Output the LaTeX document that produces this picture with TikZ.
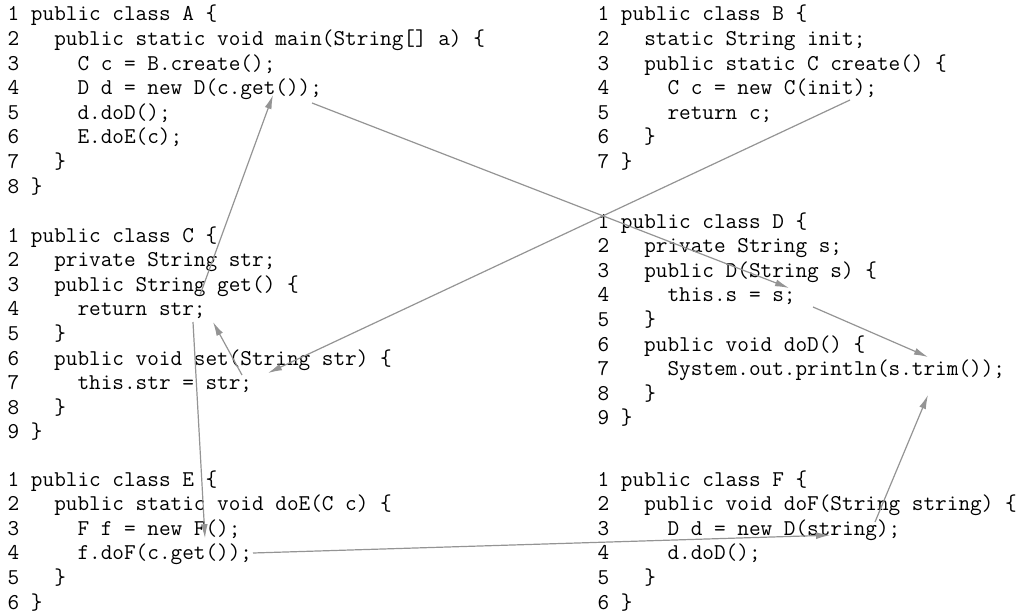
\documentclass[tikz,border=0pt]{standalone}
\usetikzlibrary{arrows.meta,calc}
\newcommand{\codefont}{\fontsize{22.6}{24.6}\selectfont\ttfamily\frenchspacing}
\begin{document}
\begin{tikzpicture}[x=1pt,y=-1pt,
  code/.style={anchor=base west,inner sep=0pt,font=\codefont},
  flow/.style={draw=black!42,line width=1.2pt,-{Latex[length=14pt,width=7pt]}}]
\useasboundingbox (0,0) rectangle (1023,615);
% class A
\node[code] (A1) at (7.5,21)    {1 public class A \{};
\node[code] (A2) at (7.5,45.6)  {2~~~public static void main(String[] a) \{};
\node[code] (A3) at (7.5,70.2)  {3~~~~~C c = B.create();};
\node[code] (A4) at (7.5,94.8)  {4~~~~~D d = new D(c.get());};
\node[code] (A5) at (7.5,119.4) {5~~~~~d.doD();};
\node[code] (A6) at (7.5,144)   {6~~~~~E.doE(c);};
\node[code] (A7) at (7.5,168.6) {7~~~\}};
\node[code] (A8) at (7.5,193.2) {8 \}};
% class B
\node[code] (B1) at (597.5,21)    {1 public class B \{};
\node[code] (B2) at (597.5,45.6)  {2~~~static String init;};
\node[code] (B3) at (597.5,70.2)  {3~~~public static C create() \{};
\node[code] (B4) at (597.5,94.8)  {4~~~~~C c = new C(init);};
\node[code] (B5) at (597.5,119.4) {5~~~~~return c;};
\node[code] (B6) at (597.5,144)   {6~~~\}};
\node[code] (B7) at (597.5,168.6) {7 \}};
% class C
\node[code] (C1) at (7.5,242)   {1 public class C \{};
\node[code] (C2) at (7.5,266.6) {2~~~private String str;};
\node[code] (C3) at (7.5,291.2) {3~~~public String get() \{};
\node[code] (C4) at (7.5,315.8) {4~~~~~return str;};
\node[code] (C5) at (7.5,340.4) {5~~~\}};
\node[code] (C6) at (7.5,365)   {6~~~public void set(String str) \{};
\node[code] (C7) at (7.5,389.6) {7~~~~~this.str = str;};
\node[code] (C8) at (7.5,414.2) {8~~~\}};
\node[code] (C9) at (7.5,438.8) {9 \}};
% class D
\node[code] (D1) at (597.5,228)   {1 public class D \{};
\node[code] (D2) at (597.5,252.6) {2~~~private String s;};
\node[code] (D3) at (597.5,277.2) {3~~~public D(String s) \{};
\node[code] (D4) at (597.5,301.8) {4~~~~~this.s = s;};
\node[code] (D5) at (597.5,326.4) {5~~~\}};
\node[code] (D6) at (597.5,351)   {6~~~public void doD() \{};
\node[code] (D7) at (597.5,375.6) {7~~~~~System.out.println(s.trim());};
\node[code] (D8) at (597.5,400.2) {8~~~\}};
\node[code] (D9) at (597.5,424.8) {9 \}};
% class E
\node[code] (E1) at (7.5,486)   {1 public class E \{};
\node[code] (E2) at (7.5,510.6) {2~~~public static void doE(C c) \{};
\node[code] (E3) at (7.5,535.2) {3~~~~~F f = new F();};
\node[code] (E4) at (7.5,559.8) {4~~~~~f.doF(c.get());};
\node[code] (E5) at (7.5,584.4) {5~~~\}};
\node[code] (E6) at (7.5,609)   {6 \}};
% class F
\node[code] (F1) at (597.5,486)   {1 public class F \{};
\node[code] (F2) at (597.5,510.6) {2~~~public void doF(String string) \{};
\node[code] (F3) at (597.5,535.2) {3~~~~~D d = new D(string);};
\node[code] (F4) at (597.5,559.8) {4~~~~~d.doD();};
\node[code] (F5) at (597.5,584.4) {5~~~\}};
\node[code] (F6) at (597.5,609)   {6 \}};
% connector end points
\coordinate (a1s) at ($(A4.base west)+(304.5,8.2)$);
\coordinate (a1e) at ($(D4.base west)+(191.5,-13.8)$);
\coordinate (a2s) at ($(B4.base west)+(252.5,5.2)$);
\coordinate (a2e) at ($(C7.base west)+(260.5,-16.6)$);
\coordinate (a3s) at ($(C4.base west)+(192.5,-20.8)$);
\coordinate (a3e) at ($(A4.base west)+(265.5,0.2)$);
\coordinate (a4s) at ($(C7.base west)+(234.5,-14.6)$);
\coordinate (a4e) at ($(C4.base west)+(205.5,6.2)$);
\coordinate (a5s) at ($(C4.base west)+(185.5,6.2)$);
\coordinate (a5e) at ($(E3.base west)+(197.5,3)$);
\coordinate (a6s) at ($(E4.base west)+(245.5,-6.8)$);
\coordinate (a6e) at ($(F3.base west)+(232.5,0)$);
\coordinate (a7s) at ($(F3.base west)+(277.5,-13.2)$);
\coordinate (a7e) at ($(D7.base west)+(330.5,19.4)$);
\coordinate (a8s) at ($(D4.base west)+(215.5,5.2)$);
\coordinate (a8e) at ($(D7.base west)+(330.5,-18.6)$);
% connectors
\draw[flow] (a1s) -- (a1e);
\draw[flow] (a2s) -- (a2e);
\draw[flow] (a3s) -- (a3e);
\draw[flow] (a4s) -- (a4e);
\draw[flow] (a5s) -- (a5e);
\draw[flow] (a6s) -- (a6e);
\draw[flow] (a7s) -- (a7e);
\draw[flow] (a8s) -- (a8e);
\end{tikzpicture}
\end{document}
